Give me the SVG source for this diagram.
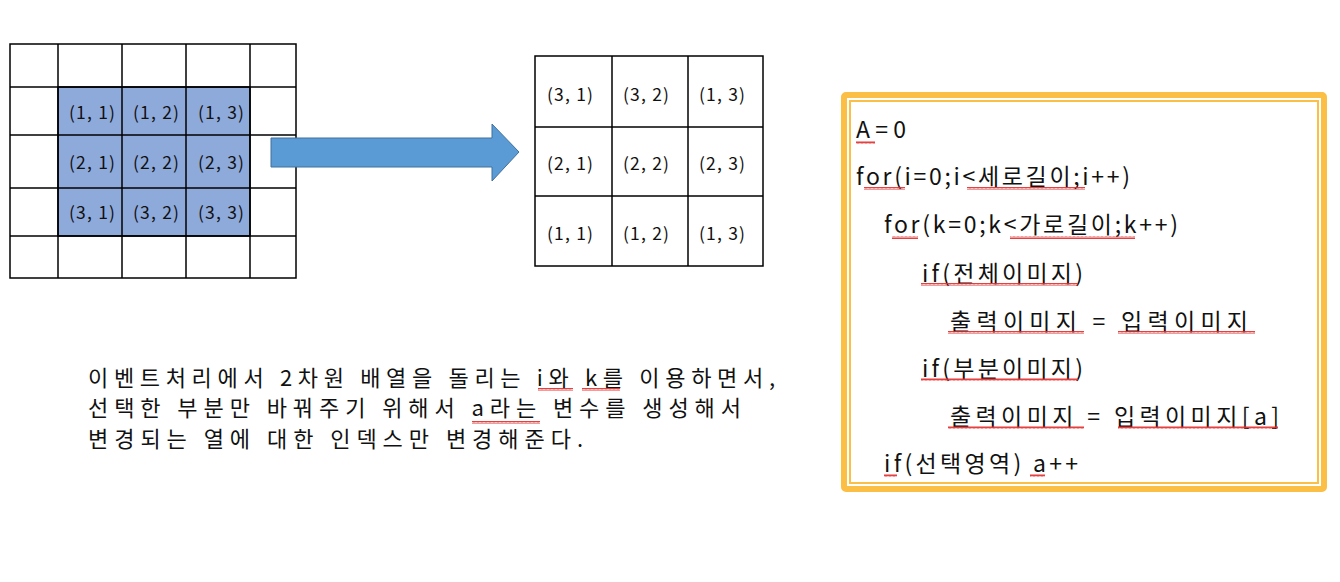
<svg xmlns="http://www.w3.org/2000/svg" width="1340" height="582" viewBox="0 0 1340 582">
<style>
  .grid line, .grid rect { stroke: #000; stroke-width: 1.5; }
  .cell { font-family: "Noto Sans CJK KR", "Noto Sans", sans-serif; font-size: 17.5px; fill: #111; }
  .code { font-family: "Noto Sans CJK KR", "Noto Sans", sans-serif; font-size: 23px; fill: #111; }
  .desc { font-family: "Noto Sans CJK KR", "Noto Sans", sans-serif; font-size: 22px; fill: #111; }
  .wave { fill: url(#wavy); }
</style>
<defs>
  <pattern id="wavy" x="0" y="0" width="4" height="3" patternUnits="userSpaceOnUse">
    <path d="M0,2.6 L1,0.4 L2,2.6 L3,0.4 L4,2.6" fill="none" stroke="#e32b2b" stroke-width="0.9"/>
  </pattern>
</defs>
<rect width="1340" height="582" fill="#fff"/>

<g id="input-grid" class="grid">
  <rect x="58" y="87" width="192" height="149" fill="#8eaadb"/>
  <rect x="10" y="44" width="286" height="234" fill="none"/>
  <line x1="58" y1="44" x2="58" y2="278"/>
  <line x1="122" y1="44" x2="122" y2="278"/>
  <line x1="186" y1="44" x2="186" y2="278"/>
  <line x1="250" y1="44" x2="250" y2="278"/>
  <line x1="10" y1="87" x2="296" y2="87"/>
  <line x1="10" y1="135" x2="296" y2="135"/>
  <line x1="10" y1="188" x2="296" y2="188"/>
  <line x1="10" y1="236" x2="296" y2="236"/>
  <g class="cell">
    <text x="69" y="119" textLength="46">(1, 1)</text>
    <text x="133" y="119" textLength="46">(1, 2)</text>
    <text x="198" y="119" textLength="46">(1, 3)</text>
    <text x="69" y="169" textLength="46">(2, 1)</text>
    <text x="133" y="169" textLength="46">(2, 2)</text>
    <text x="198" y="169" textLength="46">(2, 3)</text>
    <text x="69" y="219" textLength="46">(3, 1)</text>
    <text x="133" y="219" textLength="46">(3, 2)</text>
    <text x="198" y="219" textLength="46">(3, 3)</text>
  </g>
</g>

<g id="connectors">
  <path d="M271,138 L492,138 L492,124 L519,152 L492,181 L492,167 L271,167 Z" fill="#5b9bd5" stroke="#41719c" stroke-width="1"/>
</g>

<g id="output-grid" class="grid">
  <rect x="535" y="56" width="228" height="210" fill="none"/>
  <line x1="612" y1="56" x2="612" y2="266"/>
  <line x1="688" y1="56" x2="688" y2="266"/>
  <line x1="535" y1="127" x2="763" y2="127"/>
  <line x1="535" y1="196" x2="763" y2="196"/>
  <g class="cell">
    <text x="547" y="101" textLength="46">(3, 1)</text>
    <text x="623" y="101" textLength="46">(3, 2)</text>
    <text x="699" y="101" textLength="46">(1, 3)</text>
    <text x="547" y="170" textLength="46">(2, 1)</text>
    <text x="623" y="170" textLength="46">(2, 2)</text>
    <text x="699" y="170" textLength="46">(2, 3)</text>
    <text x="547" y="240" textLength="46">(1, 1)</text>
    <text x="623" y="240" textLength="46">(1, 2)</text>
    <text x="699" y="240" textLength="46">(1, 3)</text>
  </g>
</g>

<g id="description">
  <text class="desc" x="88" y="386" textLength="687" lengthAdjust="spacing">이벤트처리에서 2차원 배열을 돌리는 i와 k를 이용하면서,</text>
  <text class="desc" x="88" y="416" textLength="653" lengthAdjust="spacing">선택한 부분만 바꿔주기 위해서 a라는 변수를 생성해서</text>
  <text class="desc" x="88" y="447" textLength="495" lengthAdjust="spacing">변경되는 열에 대한 인덱스만 변경해준다.</text>
  <rect class="wave" x="538" y="388" width="35" height="3"/>
  <rect class="wave" x="582" y="388" width="38" height="3"/>
  <rect class="wave" x="472" y="421" width="68" height="3"/>
</g>

<g id="code-box">
  <rect x="844" y="95" width="480" height="394" rx="2" fill="#fff" stroke="#fbbf45" stroke-width="6"/>
  <rect x="850" y="101" width="468" height="382" fill="none" stroke="#fbbf45" stroke-width="2"/>
  <text class="code" x="856" y="138" textLength="50" lengthAdjust="spacing">A=0</text>
  <text class="code" x="856" y="185" textLength="274" lengthAdjust="spacing">for(i=0;i&lt;세로길이;i++)</text>
  <text class="code" x="884" y="233" textLength="294" lengthAdjust="spacing">for(k=0;k&lt;가로길이;k++)</text>
  <text class="code" x="922" y="282" textLength="161" lengthAdjust="spacing">if(전체이미지)</text>
  <text class="code" x="950" y="330" textLength="298" lengthAdjust="spacing">출력이미지 = 입력이미지</text>
  <text class="code" x="922" y="377" textLength="161" lengthAdjust="spacing">if(부분이미지)</text>
  <text class="code" x="950" y="425" textLength="329" lengthAdjust="spacing">출력이미지 = 입력이미지[a]</text>
  <text class="code" x="884" y="472" textLength="194" lengthAdjust="spacing">if(선택영역) a++</text>
  <rect class="wave" x="856" y="141" width="19" height="3"/>
  <rect class="wave" x="864" y="187" width="41" height="3"/>
  <rect class="wave" x="967" y="187" width="118" height="3"/>
  <rect class="wave" x="892" y="236" width="26" height="3"/>
  <rect class="wave" x="1010" y="236" width="125" height="3"/>
  <rect class="wave" x="921" y="283" width="157" height="3"/>
  <rect class="wave" x="948" y="331" width="136" height="3"/>
  <rect class="wave" x="1118" y="331" width="137" height="3"/>
  <rect class="wave" x="921" y="378" width="157" height="3"/>
  <rect class="wave" x="948" y="426" width="136" height="3"/>
  <rect class="wave" x="1118" y="426" width="160" height="3"/>
  <rect class="wave" x="884" y="474" width="13" height="3"/>
  <rect class="wave" x="1030" y="474" width="15" height="3"/>
</g>
</svg>
